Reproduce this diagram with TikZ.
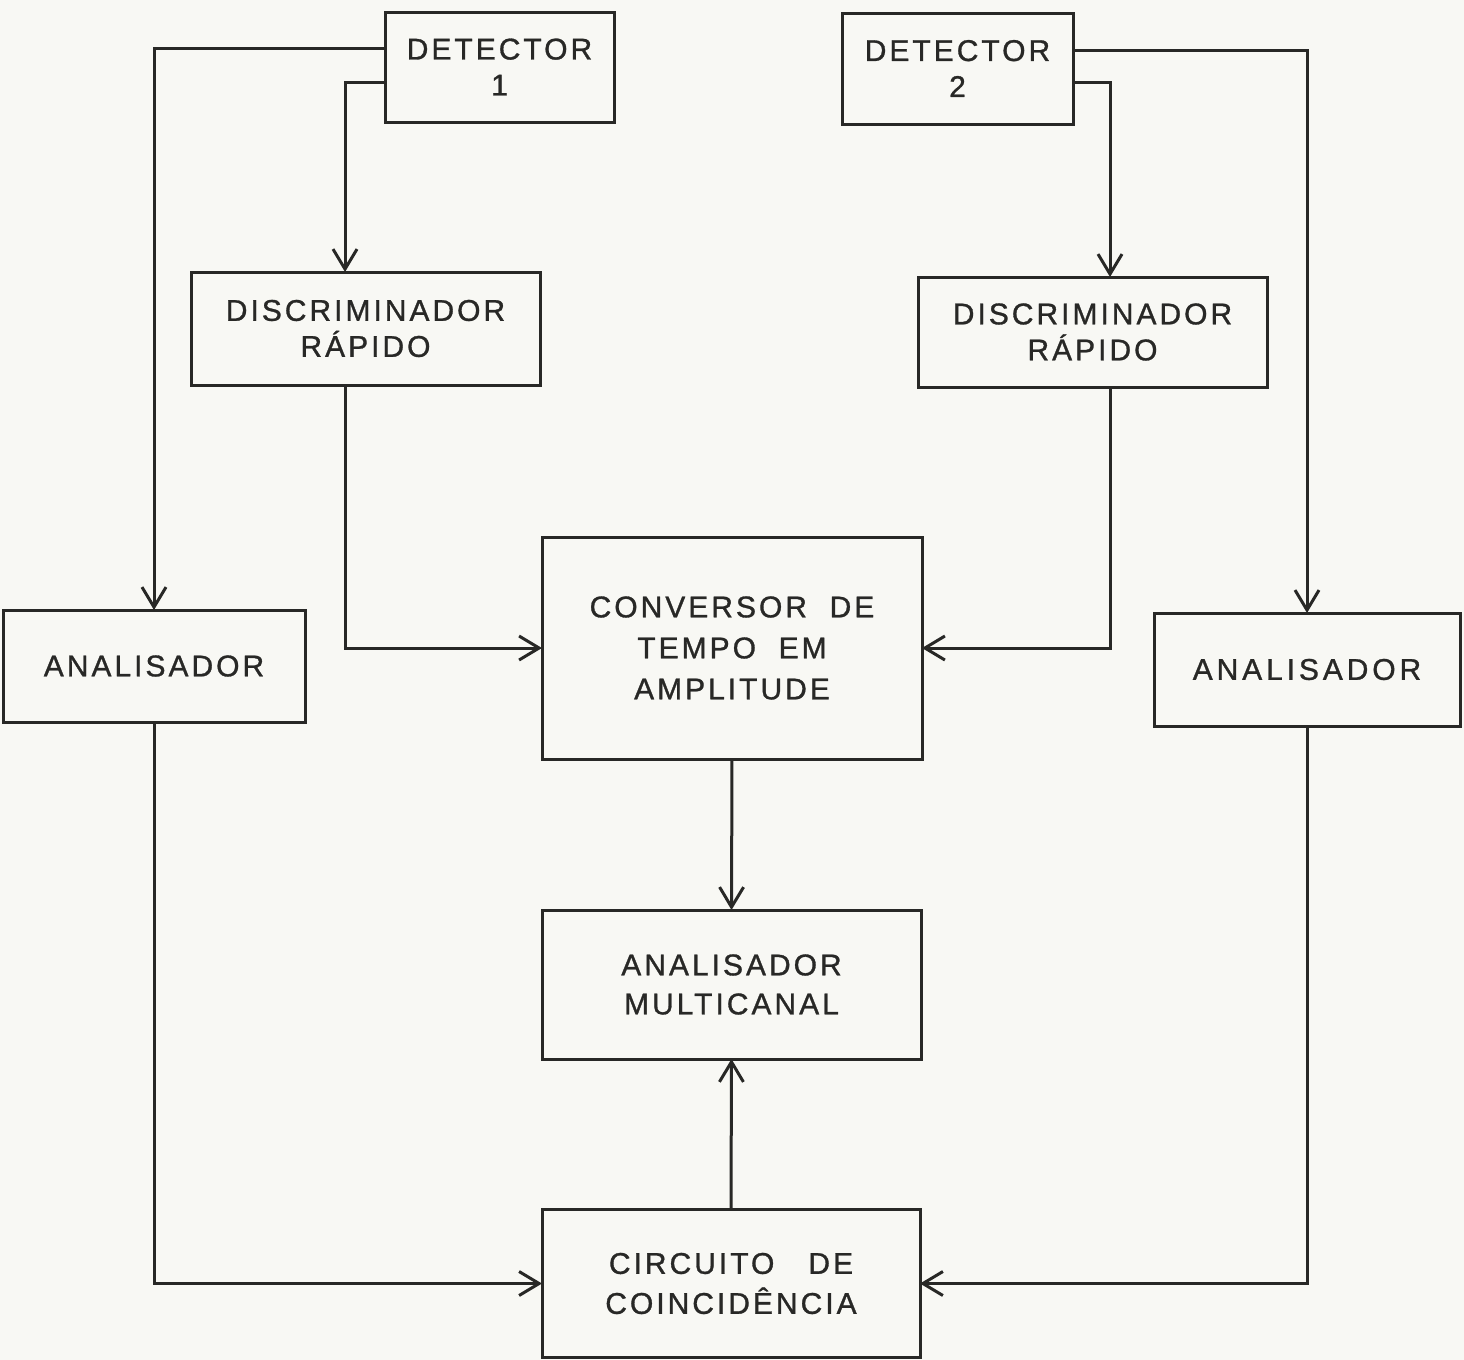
\documentclass[tikz,border=0pt]{standalone}
\usepackage{fontspec}
\newfontfamily\lerfont{Liberation Sans}[FakeBold=1.0]
\usetikzlibrary{arrows.meta}
\definecolor{ink}{RGB}{40,40,38}
\definecolor{paper}{RGB}{248,248,244}
\begin{document}
\begin{tikzpicture}[x=0.5pt,y=-0.5pt,
  blk/.style={draw=ink,line width=1.5pt,rectangle,inner sep=0pt,outer sep=0pt,
    align=center,text=ink,
    font={\lerfont\fontsize{15}{18}\selectfont\addfontfeature{LetterSpace=10}}},
  arr/.style={draw=ink,line width=1.5pt,-{Straight Barb[length=10pt,width=12pt,line width=1.5pt]}},
  ln/.style={draw=ink,line width=1.5pt}]
\fill[paper] (0,0) rectangle (1464,1360);
\useasboundingbox (0,0) rectangle (1464,1360);

\node[blk,minimum width=114.5pt,minimum height=55pt] (d1) at (499.5,67) {DETECTOR\\1};
\node[blk,minimum width=115.5pt,minimum height=55.5pt] (d2) at (957.5,68.5) {DETECTOR\\2};
\node[blk,minimum width=174.5pt,minimum height=56.5pt] (r1) at (365.5,328.5) {DISCRIMINADOR\\RÁPIDO};
\node[blk,minimum width=174.5pt,minimum height=55pt] (r2) at (1092.5,332) {DISCRIMINADOR\\RÁPIDO};
\node[blk,minimum width=190pt,minimum height=111pt,font={\lerfont\fontsize{15}{20.5}\selectfont\addfontfeature{LetterSpace=10}}] (tac) at (732,648) {CONVERSOR\ \ DE\\TEMPO\ \ EM\\AMPLITUDE};
\node[blk,minimum width=151pt,minimum height=56pt] (a1) at (154,666) {ANALISADOR};
\node[blk,minimum width=153pt,minimum height=56.5pt,font={\lerfont\fontsize{15}{18}\selectfont\addfontfeature{LetterSpace=13}}] (a2) at (1307,669.5) {ANALISADOR};
\node[blk,minimum width=189.5pt,minimum height=74.5pt,font={\lerfont\fontsize{15}{19.5}\selectfont\addfontfeature{LetterSpace=10}}] (mca) at (731.5,984.5) {ANALISADOR\\MULTICANAL};
\node[blk,minimum width=189pt,minimum height=74pt,font={\lerfont\fontsize{15}{20}\selectfont\addfontfeature{LetterSpace=10}}] (cc) at (731,1283.5) {CIRCUITO\ \ \ DE\\COINCIDÊNCIA};

\draw[arr] ([yshift=9.5pt]d1.west) -| (a1.north);
\draw[arr] ([yshift=-7.5pt]d1.west) -| ([xshift=-10.25pt]r1.north);
\draw[arr] ([xshift=-10.25pt]r1.south) |- (tac.west);
\draw[arr] ([yshift=9.25pt]d2.east) -| (a2.north);
\draw[arr] ([yshift=-6.75pt]d2.east) -| ([xshift=8.75pt]r2.north);
\draw[arr] ([xshift=8.75pt]r2.south) |- (tac.east);
\draw[arr] (tac.south) -- (mca.north);
\draw[arr] (cc.north) -- (mca.south);
\draw[arr] (a1.south) |- (cc.west);
\draw[arr] (a2.south) |- (cc.east);
\end{tikzpicture}
\end{document}
